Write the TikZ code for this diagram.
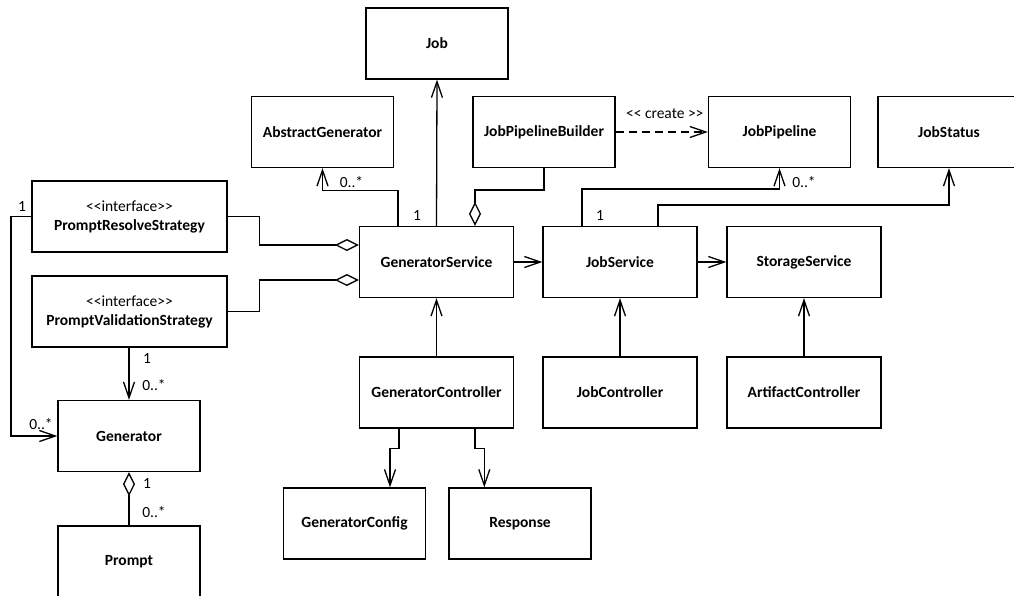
\documentclass[tikz,border=0pt]{standalone}
\usepackage{fontspec}
\setmainfont{Carlito}[Ligatures=TeXOff]
\usetikzlibrary{arrows.meta}
\begin{document}
\begin{tikzpicture}[x=1pt,y=-1pt,
  txt/.style={font=\fontsize{15.5}{19}\selectfont},
  cls/.style={draw, line width=1.3pt, minimum width=142pt, minimum height=71pt,
    inner sep=0pt, align=center, fill=white, font=\fontsize{15.5}{19}\selectfont\bfseries},
  wide/.style={cls, minimum width=154pt},
  iface/.style={cls, minimum width=195pt},
  conn/.style={line width=1.3pt},
  nav/.style={conn, -{Straight Barb[length=16pt,width=11pt]}},
  agg/.style={conn, {Diamond[length=24pt,width=12pt,fill=white]}-},
  dep/.style={nav, dash pattern=on 8pt off 5pt},
  mult/.style={txt, inner sep=0pt},
]
\useasboundingbox (0,0) rectangle (1014,595);
\clip (0,0) rectangle (1014,595);

% classes
\node[cls]  (job)    at (437,43.5)   {Job};
\node[cls]  (ag)     at (322.5,132)  {AbstractGenerator};
\node[cls]  (jpb)    at (544,132)    {JobPipelineBuilder};
\node[cls]  (jp)     at (779.5,132)  {JobPipeline};
\node[cls]  (jst)    at (949,132)    {JobStatus};
\node[iface] (prs)   at (129.5,216.5) {{\mdseries <<interface>>}\\PromptResolveStrategy};
\node[iface] (pvs)   at (129.5,311.5) {{\mdseries <<interface>>}\\PromptValidationStrategy};
\node[wide] (gs)     at (436.5,262)  {GeneratorService};
\node[wide] (js)     at (620,262)    {JobService};
\node[wide] (ss)     at (804,262)    {StorageService};
\node[wide] (gc)     at (436.5,392.5) {GeneratorController};
\node[wide] (jc)     at (620,392.5)  {JobController};
\node[wide] (ac)     at (804,392.5)  {ArtifactController};
\node[cls]  (gen)    at (129,436)    {Generator};
\node[cls]  (gcfg)   at (354.5,523.5) {GeneratorConfig};
\node[cls]  (resp)   at (520,523.5)  {Response};
\node[cls]  (prompt) at (129,561.5)  {Prompt};

% associations around GeneratorService
\draw[nav] (gs.north) -- (job.south);
\draw[nav] ([xshift=-38.5pt]gs.north) -- ++(0,-35.3) -| (ag.south);
\draw[agg] ([xshift=38.5pt]gs.north) -- ++(0,-36) -| (jpb.south);
\draw[nav] (gs.east) -- (js.west);
\draw[agg] ([yshift=17pt]gs.west) -- ++(-99.5,0) |- (prs.east);
\draw[agg] ([yshift=-18pt]gs.west) -- ++(-99.5,0) |- (pvs.east);

% JobService
\draw[nav] (js.east) -- (ss.west);
\draw[nav] ([xshift=-38pt]js.north) -- ++(0,-37) -| (jp.south);
\draw[nav] ([xshift=38pt]js.north) -- ++(0,-21) -| (jst.south);
\draw[dep] (jpb.east) -- (jp.west)
  node[mult, midway, yshift=18.5pt, xshift=3pt] (create) {<< create >>};

% strategies and generator
\draw[nav] (prs.west) -- ++(-20.5,0) |- (gen.west);
\draw[nav] (gen.north |- pvs.south) -- (gen.north);
\draw[agg] (gen.south) -- (prompt.north);

% controllers
\draw[nav] (gc.north) -- (gs.south);
\draw[nav] (jc.north) -- (js.south);
\draw[nav] (ac.north) -- (ss.south);
\draw[nav] ([xshift=-37.5pt]gc.south) -- ++(0,20) -| ([xshift=35.5pt]gcfg.north);
\draw[nav] ([xshift=38.5pt]gc.south) -- ++(0,20) -| ([xshift=-35.7pt]resp.north);

% multiplicities
\node[mult] (m1)  at (351.5,182) {0..*};
\node[mult] (m2)  at (417,216)   {1};
\node[mult] (m3)  at (600,216)   {1};
\node[mult] (m4)  at (804,182)   {0..*};
\node[mult] (m5)  at (22,207)    {1};
\node[mult] (m6)  at (147,359)   {1};
\node[mult] (m7)  at (154,385)   {0..*};
\node[mult] (m8)  at (41,424)    {0..*};
\node[mult] (m9)  at (147,484)   {1};
\node[mult] (m10) at (154,512)   {0..*};
\end{tikzpicture}
\end{document}
